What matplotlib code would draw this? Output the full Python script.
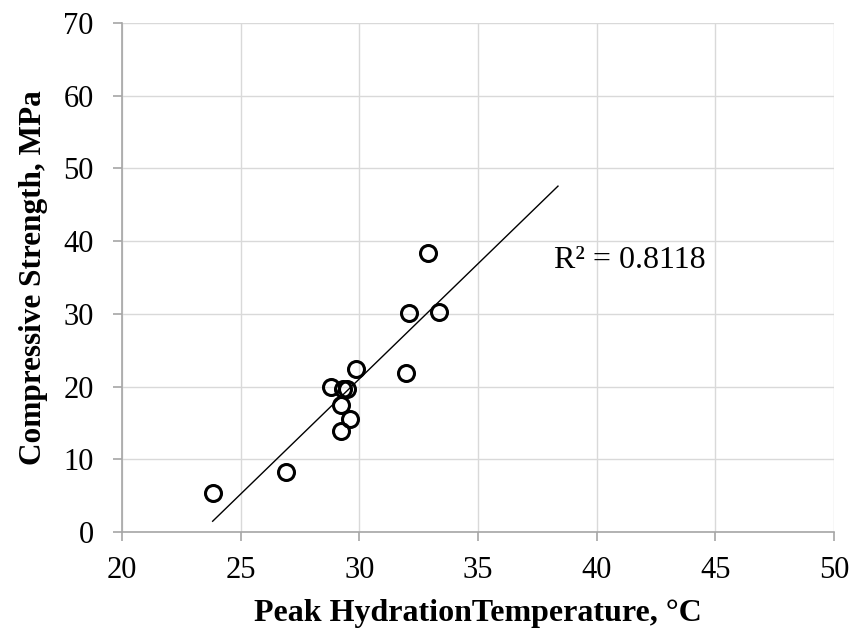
import numpy as np
import matplotlib
matplotlib.use("Agg")
import matplotlib.pyplot as plt

# Data
peak_temp = [23.82, 26.91, 28.79, 29.30, 29.47, 29.85, 29.23, 29.61, 29.22,
             32.91, 32.10, 33.37, 31.97]
strength = [5.4, 8.2, 20.0, 19.7, 19.6, 22.4, 17.5, 15.5, 13.9,
            38.4, 30.1, 30.2, 21.9]
x_ticks = [20, 25, 30, 35, 40, 45, 50]
y_ticks = [0, 10, 20, 30, 40, 50, 60, 70]
r2_label = "R² = 0.8118"
forecast_forward = 5.0

plt.rcParams['font.family'] = ['Liberation Serif', 'DejaVu Serif']

fig = plt.figure(figsize=(8.54, 6.35), dpi=100)
ax = fig.add_axes([122/854, 1 - 532/635, (834-122)/854, (532-23)/635])

x = np.array(peak_temp)
y = np.array(strength)
slope, intercept = np.polyfit(x, y, 1)
xl = np.array([x.min(), x.max() + forecast_forward])
ax.plot(xl, slope * xl + intercept, color='black', lw=1.0, zorder=3)

ax.plot(x, y, linestyle='none', marker='o', markersize=11.5,
        markerfacecolor='none', markeredgecolor='black', markeredgewidth=2.2,
        zorder=4)

ax.set_xlim(20, 50)
ax.set_ylim(0, 70)
ax.set_xticks(x_ticks)
ax.set_yticks(y_ticks)
ax.grid(True, color='#d9d9d9', lw=1.0)
ax.set_axisbelow(True)
for s in ['top', 'right']:
    ax.spines[s].set_visible(False)
for s in ['left', 'bottom']:
    ax.spines[s].set_color('#a6a6a6')
    ax.spines[s].set_linewidth(1.2)
ax.tick_params(axis='both', direction='out', length=6.5, width=1.2,
               color='#a6a6a6', labelsize=22)
ax.tick_params(axis='y', pad=14)
ax.tick_params(axis='x', pad=11)

ax.set_xlabel("Peak HydrationTemperature, °C", fontsize=23,
              fontweight='bold', labelpad=10)
ax.set_ylabel("Compressive Strength, MPa", fontsize=22.5,
              fontweight='bold', labelpad=11)

ax.text(38.2, 37.3, r2_label, fontsize=23, va='center', ha='left')

fig.savefig("out.png", dpi=100)
